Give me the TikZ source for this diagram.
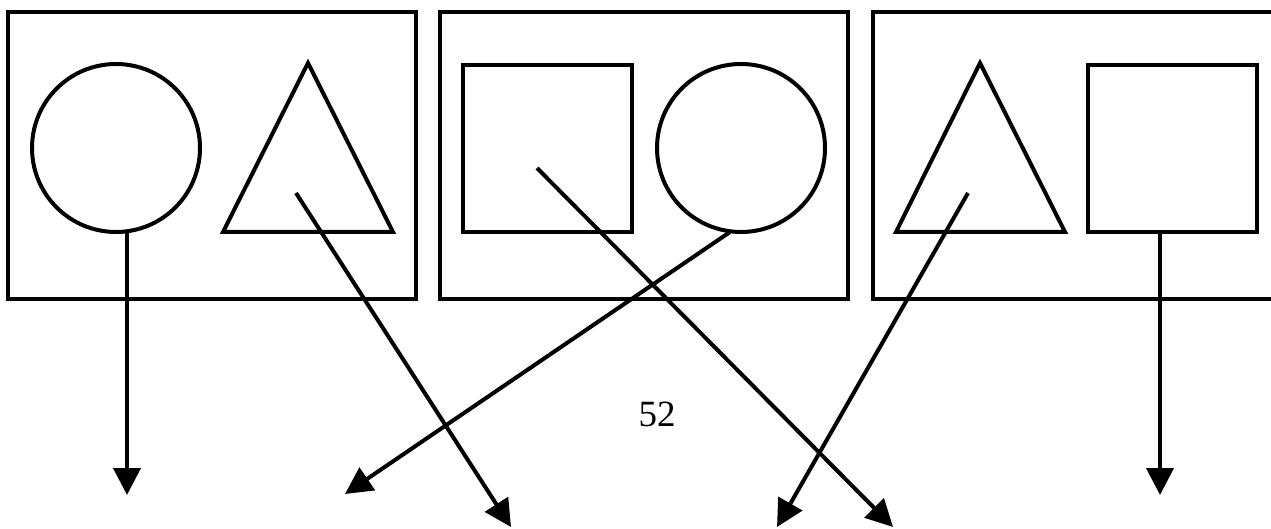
\documentclass[tikz,border=0pt]{standalone}
\usepackage{fontspec}
\setmainfont{Liberation Serif}
\usetikzlibrary{arrows.meta}
\begin{document}
\begin{tikzpicture}[x=1pt,y=-1pt,
  frame/.style={draw, line width=4pt, rectangle, inner sep=0pt, minimum width=408pt, minimum height=287pt},
  shp/.style={draw, line width=4pt, inner sep=0pt},
  tri/.style={line width=4pt, line join=miter},
  arr/.style={line width=4pt, -{Triangle[width=27pt,length=27pt]}}]
\useasboundingbox (0,0) rectangle (1271,529);
% frames
\node[frame] (f1) at (212,155.5) {};
\node[frame] (f2) at (644,155.5) {};
\node[frame] (f3) at (1077,155.5) {};
% shapes
\node[shp, circle, minimum size=168pt] (c1) at (116,148) {};
\draw[tri] (308,63) -- (393,232) -- (223,232) -- cycle;
\node[shp, rectangle, minimum width=169pt, minimum height=167pt] (s2) at (547.5,148.5) {};
\node[shp, circle, minimum size=168pt] (c2) at (741,148) {};
\draw[tri] (980,63) -- (1065,232) -- (896,232) -- cycle;
\node[shp, rectangle, minimum width=169pt, minimum height=167pt] (s3) at (1172.5,148.5) {};
% arrow endpoints
\coordinate (a1s) at (127,232);
\coordinate (a1e) at (127,495);
\coordinate (a2s) at (296,193);
\coordinate (a2e) at (511,527);
\coordinate (a3s) at (730,232);
\coordinate (a3e) at (345,494);
\coordinate (a4s) at (537,168);
\coordinate (a4e) at (893,527);
\coordinate (a5s) at (968,193);
\coordinate (a5e) at (777,527);
\coordinate (a6s) at (1160,232);
\coordinate (a6e) at (1160,495);
\draw[arr] (a1s) -- (a1e);
\draw[arr] (a2s) -- (a2e);
\draw[arr] (a3s) -- (a3e);
\draw[arr] (a4s) -- (a4e);
\draw[arr] (a5s) -- (a5e);
\draw[arr] (a6s) -- (a6e);
\node[font=\fontsize{37}{44}\selectfont, inner sep=0pt] (lbl) at (657,414.5) {52};
\end{tikzpicture}
\end{document}
